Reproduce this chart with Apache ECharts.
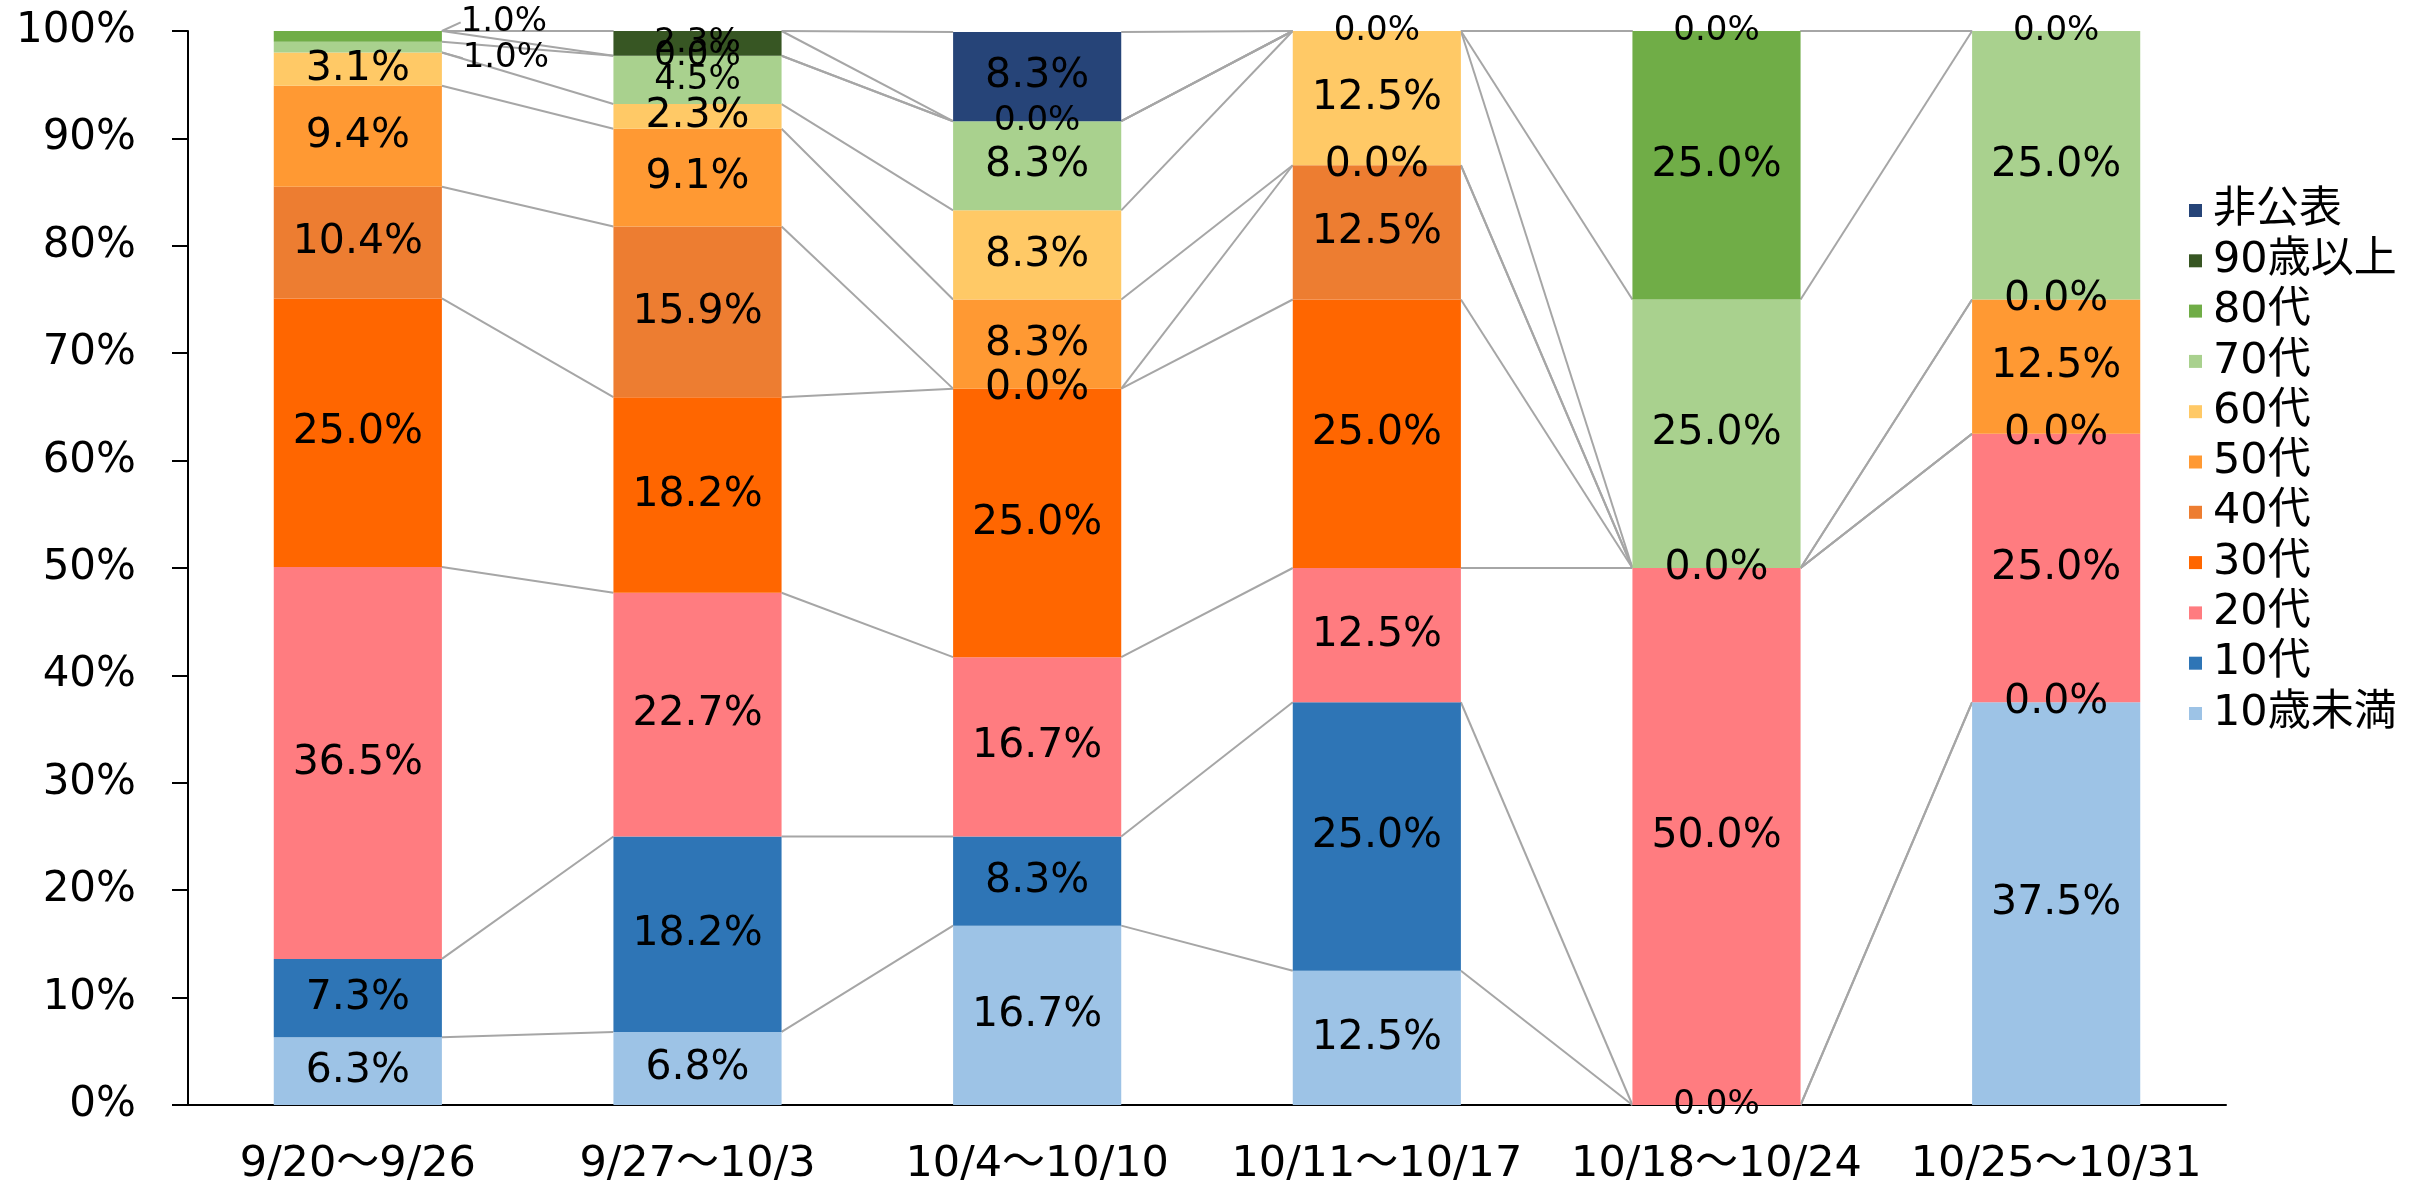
<!DOCTYPE html>
<html lang="ja">
  <head>
    <meta charset="UTF-8" />
    <title>年代別割合</title>
    <script src="https://cdn.jsdelivr.net/npm/echarts@6/dist/echarts.min.js"></script>
    <style>
      html, body { margin: 0; padding: 0; background: #fff; }
    </style>
  </head>
  <body>
    <div id="main" style="width: 2412px; height: 1188px"></div>
    <script type="text/javascript">
      // categories (weeks) and age groups, bottom to top of the stack
      const weeks = ["9/20～9/26", "9/27～10/3", "10/4～10/10", "10/11～10/17", "10/18～10/24", "10/25～10/31"];
      const groups = ["10歳未満", "10代", "20代", "30代", "40代", "50代", "60代", "70代", "80代", "90歳以上", "非公表"];

      // percentages per age group, one value per week (null = no label / no data)
      const under10 = [6.3, 6.8, 16.7, 12.5, 0.0, 37.5];
      const teens = [7.3, 18.2, 8.3, 25.0, null, 0.0];
      const twenties = [36.5, 22.7, 16.7, 12.5, 50.0, 25.0];
      const thirties = [25.0, 18.2, 25.0, 25.0, 0.0, 0.0];
      const forties = [10.4, 15.9, 0.0, 12.5, null, null];
      const fifties = [9.4, 9.1, 8.3, 0.0, null, 12.5];
      const sixties = [3.1, 2.3, 8.3, 12.5, null, 0.0];
      const seventies = [1.0, 4.5, 8.3, 0.0, 25.0, 25.0];
      const eighties = [1.0, 0.0, 0.0, null, 25.0, 0.0];
      const over90 = [null, 2.3, null, null, 0.0, null];
      const undisclosed = [null, null, 8.3, null, null, null];

      const seriesValues = [under10, teens, twenties, thirties, forties, fifties, sixties, seventies, eighties, over90, undisclosed];
      const colors = ["#9DC3E6", "#2E75B6", "#FF7C80", "#FF6600", "#ED7D31", "#FF9933", "#FFC966", "#A9D18E", "#70AD47", "#375623", "#264478"];

      // labels drawn in the smaller size: [series index, week index]
      const smallLabels = [[7, 0], [8, 0], [7, 1], [8, 1], [9, 1], [8, 2], [7, 3], [9, 4], [0, 4], [8, 5]];

      const BAR_RATIO = 0.495;
      const FONT = "'DejaVu Sans', 'Noto Sans CJK JP', sans-serif";

      function isSmall(k, i) {
        return smallLabels.some((p) => p[0] === k && p[1] === i);
      }

      // top of the stacked segment of series k in week i
      function stackTop(k, i) {
        let s = 0;
        for (let j = 0; j <= k; j++) s += seriesValues[j][i] || 0;
        return s;
      }

      let myChart = echarts.init(document.getElementById("main"));

      const barSeries = groups.map((name, k) => ({
        name: name,
        type: "bar",
        stack: "total",
        barWidth: BAR_RATIO * 100 + "%",
        itemStyle: { color: colors[k] },
        label: {
          show: true,
          position: "inside",
          color: "#000",
          fontFamily: FONT,
          fontSize: 41,
          formatter: (p) => p.value.toFixed(1) + "%",
        },
        labelLine: { show: true, lineStyle: { color: "#A6A6A6", width: 2 } },
        labelLayout:
          k === 7 || k === 8
            ? function (p) {
                if (p.dataIndex !== 0) return {};
                return k === 8 ? { dx: 146, dy: -14 } : { dx: 148, dy: 11 };
              }
            : undefined,
        data: seriesValues[k].map((v, i) =>
          v === null ? null : isSmall(k, i) ? { value: v, label: { fontSize: 34 } } : v
        ),
        z: 3,
      }));

      // Excel-style series lines joining the segment tops of neighbouring bars
      const linkData = [];
      for (let i = 0; i < weeks.length - 1; i++) {
        for (let k = 0; k < groups.length; k++) linkData.push([i, k]);
      }
      const seriesLines = {
        type: "custom",
        silent: true,
        z: 2,
        renderItem: function (params, api) {
          const i = api.value(0);
          const k = api.value(1);
          const half = (api.size([1, 0])[0] * BAR_RATIO) / 2;
          const a = api.coord([i, stackTop(k, i)]);
          const b = api.coord([i + 1, stackTop(k, i + 1)]);
          return {
            type: "line",
            shape: { x1: a[0] + half, y1: a[1], x2: b[0] - half, y2: b[1] },
            style: { stroke: "#A6A6A6", lineWidth: 2 },
          };
        },
        data: linkData,
      };

      let options = {
        animation: false,
        grid: { left: 188, right: 186, top: 31, bottom: 83, outerBoundsMode: "none" },
        legend: {
          orient: "vertical",
          left: 2184,
          top: 184,
          icon: "rect",
          itemWidth: 13,
          itemHeight: 13,
          itemGap: 7.3,
          data: groups.slice().reverse(),
          textStyle: { fontFamily: FONT, fontSize: 43, lineHeight: 40, color: "#000", padding: [0, 0, 0, 6] },
        },
        xAxis: {
          type: "category",
          data: weeks,
          axisLine: { lineStyle: { color: "#000", width: 2 } },
          axisTick: { show: false },
          axisLabel: { interval: 0, color: "#000", fontFamily: FONT, fontSize: 43, margin: 38 },
        },
        yAxis: {
          type: "value",
          min: 0,
          max: 100,
          interval: 10,
          axisLine: { show: true, lineStyle: { color: "#000", width: 2 } },
          axisTick: { show: true, length: 16, lineStyle: { color: "#000", width: 2 } },
          splitLine: { show: false },
          axisLabel: { color: "#000", fontFamily: FONT, fontSize: 42, margin: 52, formatter: "{value}%" },
        },
        series: [seriesLines].concat(barSeries),
      };

      myChart.setOption(options);
    </script>
  </body>
</html>
